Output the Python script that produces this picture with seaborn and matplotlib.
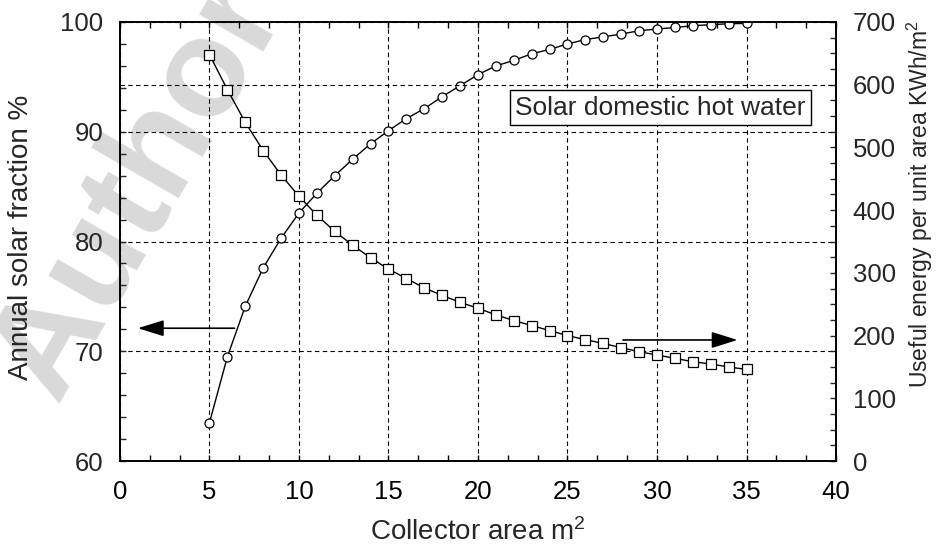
import matplotlib
matplotlib.use("Agg")
import matplotlib.pyplot as plt
from matplotlib.ticker import MultipleLocator
import seaborn as sns
import pandas as pd

# collector area (m2)
area = list(range(5, 36))

# annual solar fraction (%), circles, left axis
solar_fraction = [63.5, 69.5, 74.1, 77.6, 80.3, 82.6, 84.4, 86.0, 87.5, 88.9,
                  90.1, 91.2, 92.1, 93.2, 94.2, 95.2, 96.0, 96.5, 97.1, 97.5,
                  98.0, 98.4, 98.65, 98.9, 99.2, 99.36, 99.5, 99.66, 99.75, 99.84,
                  99.87]

# useful energy per unit area (kWh/m2), squares, right axis
useful_energy = [648, 592, 540, 495, 456, 422, 392, 366, 344, 324,
                 306, 291, 276, 264, 253, 243.5, 233, 224, 216, 208,
                 200, 193.5, 187.5, 180.7, 174.3, 169, 163.7, 158.4, 154.7, 150,
                 146]

df = pd.DataFrame({"area": area, "fraction": solar_fraction, "energy": useful_energy})

sns.set_theme(style="ticks")
plt.rcParams["font.family"] = ["Liberation Sans", "DejaVu Sans"]
plt.rcParams["mathtext.fontset"] = "custom"
plt.rcParams["mathtext.rm"] = "Liberation Sans"
plt.rcParams["mathtext.default"] = "rm"

fig, ax = plt.subplots(figsize=(9.44, 5.51), dpi=100)
plt.subplots_adjust(left=0.1271, right=0.8856, top=0.9601, bottom=0.1633)
ax2 = ax.twinx()
ax.patch.set_facecolor("none")
ax2.patch.set_facecolor("none")

# faint watermark behind everything
fig.text(0.062, 0.262, "Author's copy", rotation=60, rotation_mode="anchor",
         ha="left", va="baseline", fontsize=100, fontweight="bold",
         color="#d9d9d9", zorder=-5)

sns.lineplot(data=df, x="area", y="fraction", ax=ax, color="black", linewidth=1.0,
             marker="o", markersize=6.5, markerfacecolor="white",
             markeredgecolor="black", markeredgewidth=0.9)
sns.lineplot(data=df, x="area", y="energy", ax=ax2, color="black", linewidth=1.0,
             marker="s", markersize=7, markerfacecolor="white",
             markeredgecolor="black", markeredgewidth=0.9)

ax.set_xlim(0, 40)
ax.set_ylim(60, 100)
ax2.set_ylim(0, 700)

ax.xaxis.set_major_locator(MultipleLocator(5))
ax.xaxis.set_minor_locator(MultipleLocator(5 / 3))
ax.yaxis.set_major_locator(MultipleLocator(10))
ax.yaxis.set_minor_locator(MultipleLocator(2))
ax2.yaxis.set_major_locator(MultipleLocator(100))
ax2.yaxis.set_minor_locator(MultipleLocator(25))

ax.tick_params(axis="x", which="both", direction="in", top=True, length=4, width=1,
               labelsize=18.5, pad=14, colors="black")
ax.tick_params(axis="y", which="both", direction="in", length=4, width=1,
               labelsize=18.5, pad=12)
ax2.tick_params(axis="y", which="both", direction="in", length=4, width=1,
                labelsize=18.5, pad=12)

grid_style = dict(color="black", linestyle=(0, (4, 3)), linewidth=0.8)
ax.grid(True, which="major", **grid_style)
ax2.axhline(600, **grid_style)

for a in (ax, ax2):
    for s in a.spines.values():
        s.set_linewidth(1.2)
        s.set_color("black")

ax.set_xlabel("Collector area m$^2$", fontsize=20, labelpad=10)
ax.set_ylabel("Annual solar fraction %", fontsize=20)
ax2.set_ylabel("Useful energy per unit area KWh/m$^2$", fontsize=16.5)
ax.yaxis.set_label_coords(-0.120, 0.510)
ax2.yaxis.set_label_coords(1.096, 0.585)

ax.text(30.2, 92.2, "Solar domestic hot water", fontsize=19, ha="center", va="center",
        bbox=dict(boxstyle="square,pad=0.2", facecolor="white", edgecolor="black",
                  linewidth=1.0))

arrow = dict(arrowstyle="-|>,head_length=0.8,head_width=0.25", color="black",
             lw=1.2, mutation_scale=20, shrinkA=0, shrinkB=0)
ax.annotate("", xy=(1.0, 72.1), xytext=(6.4, 72.1), arrowprops=arrow)
ax2.annotate("", xy=(34.5, 193), xytext=(28.1, 193), arrowprops=arrow)

fig.savefig("out.png", dpi=100)
